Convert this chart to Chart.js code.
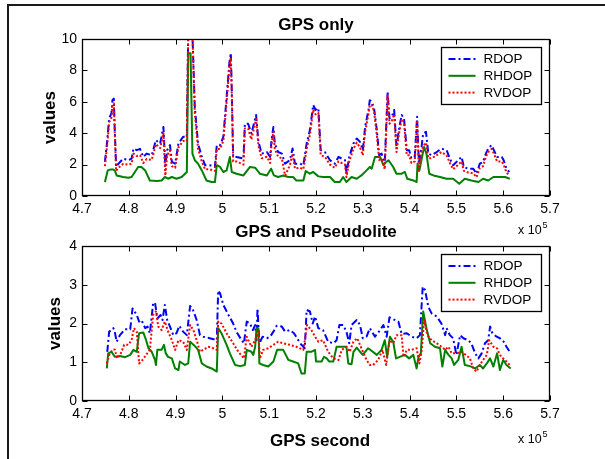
<!DOCTYPE html>
<html>
<head>
<meta charset="utf-8">
<title>GPS only / GPS and Pseudolite</title>
<script src="https://cdn.jsdelivr.net/npm/chart.js@4.4.1/dist/chart.umd.min.js"></script>
<style>
  html, body { margin: 0; background: #fff; }
  #page { position: relative; width: 605px; height: 459px; overflow: hidden; background: #fff; }
  #frame {
    position: absolute; left: 7px; top: 4px; width: 640px; height: 500px;
    border-left: 2px solid #1a1a1a; border-top: 2px solid #1a1a1a;
  }
  canvas { position: absolute; left: 0; top: 0; }
</style>
</head>
<body>
<div id="page">
  <div id="frame"></div>
  <canvas id="topChart" width="605" height="459"></canvas>
  <canvas id="bottomChart" width="605" height="459"></canvas>
</div>
<script>
"use strict";

const $ = (id) => document.getElementById(id);

// GPS second, in units of 10^5 (the axis shows "x 10^5")
const xTicks = [4.7, 4.8, 4.9, 5, 5.1, 5.2, 5.3, 5.4, 5.5, 5.6, 5.7];
const topYTicks = [0, 2, 4, 6, 8, 10];
const bottomYTicks = [0, 1, 2, 3, 4];
const seriesNames = ["RDOP", "RHDOP", "RVDOP"];

// --- GPS only ---
const gpsTime = [
  4.749, 4.754, 4.758, 4.763, 4.765, 4.768, 4.770, 4.773, 4.778, 4.788,
  4.799, 4.806, 4.810, 4.817, 4.824, 4.831, 4.838, 4.849, 4.858, 4.867,
  4.874, 4.878, 4.882, 4.888, 4.892, 4.899, 4.906, 4.916, 4.924, 4.927,
  4.932, 4.936, 4.941, 4.948, 4.956, 4.963, 4.973, 4.984, 4.988, 4.995,
  5.002, 5.009, 5.015, 5.018, 5.020, 5.023, 5.030, 5.045, 5.048, 5.055,
  5.062, 5.072, 5.077, 5.084, 5.095, 5.102, 5.105, 5.109, 5.112, 5.119,
  5.127, 5.134, 5.144, 5.150, 5.155, 5.166, 5.173, 5.180, 5.187, 5.194,
  5.199, 5.205, 5.210, 5.219, 5.230, 5.240, 5.248, 5.255, 5.262, 5.265,
  5.271, 5.280, 5.287, 5.294, 5.300, 5.305, 5.312, 5.315, 5.319, 5.324,
  5.330, 5.335, 5.340, 5.347, 5.353, 5.357, 5.362, 5.367, 5.372, 5.377,
  5.383, 5.388, 5.394, 5.399, 5.404, 5.411, 5.416, 5.420, 5.426, 5.429,
  5.435, 5.440, 5.447, 5.458, 5.468, 5.479, 5.486, 5.493, 5.504, 5.511,
  5.516, 5.525, 5.536, 5.543, 5.550, 5.557, 5.563, 5.568, 5.575, 5.580,
  5.587, 5.597, 5.601, 5.607, 5.613,
];
const gpsRdop = [
  2.17, 3.56, 4.95, 5.27, 6.1, 6.2, 4.2, 1.85, 2.06, 2.38,
  2.28, 2.38, 3.02, 2.92, 3.0, 2.49, 2.7, 2.6, 3.56, 3.34,
  4.4, 1.96, 2.92, 3.24, 2.17, 2.06, 3.34, 3.77, 3.77, 10.6,
  10.8, 10.3, 5.7, 3.34, 2.49, 1.96, 1.96, 1.85, 3.24, 3.24,
  3.77, 6.3, 8.5, 9.1, 6.8, 2.49, 2.49, 2.38, 4.6, 4.6,
  3.98, 5.16, 3.45, 2.7, 2.8, 2.49, 3.56, 4.4, 3.34, 2.8,
  2.7, 2.06, 2.28, 3.02, 2.06, 2.06, 1.96, 3.34, 4.2, 5.8,
  5.48, 5.6, 2.92, 2.8, 2.28, 2.06, 2.49, 2.38, 2.28, 1.42,
  2.49, 3.34, 3.66, 3.45, 2.92, 4.4, 5.48, 6.1, 6.0, 5.6,
  4.2, 2.6, 2.7, 2.17, 6.65, 4.95, 5.05, 5.48, 3.13, 4.2,
  5.16, 4.95, 2.92, 2.92, 2.38, 2.49, 5.05, 2.06, 3.24, 3.98,
  4.09, 2.7, 2.6, 2.8, 3.02, 2.92, 2.38, 1.96, 2.28, 2.49,
  1.85, 1.74, 1.74, 1.42, 2.06, 2.17, 2.7, 3.02, 3.24, 2.92,
  2.49, 2.49, 2.28, 1.74, 1.53,
];
const gpsRvdop = [
  1.9, 3.3, 4.7, 5.0, 5.8, 5.9, 4.0, 1.6, 1.8, 2.05,
  2.0, 2.05, 2.7, 2.55, 2.6, 2.1, 2.35, 2.3, 3.3, 3.05,
  4.0, 1.3, 2.6, 2.9, 1.9, 1.8, 3.1, 3.5, 3.5, 10.5,
  10.9, 10.2, 5.3, 3.0, 2.2, 1.7, 1.7, 1.6, 3.0, 3.0,
  3.5, 6.0, 8.2, 8.8, 6.5, 2.2, 2.2, 2.0, 4.3, 4.3,
  3.6, 4.9, 3.2, 2.4, 2.5, 2.1, 3.3, 4.1, 3.0, 2.5,
  2.4, 1.3, 1.95, 2.7, 1.75, 1.8, 1.7, 3.0, 3.9, 5.5,
  5.2, 5.3, 2.6, 2.5, 2.0, 1.8, 2.2, 2.1, 2.0, 1.2,
  2.2, 3.0, 3.4, 3.1, 2.6, 4.1, 5.2, 5.8, 5.8, 5.4,
  3.9, 2.3, 2.4, 1.7, 6.4, 4.6, 4.8, 5.2, 2.8, 3.9,
  4.9, 4.7, 2.6, 2.6, 2.1, 2.2, 4.7, 1.6, 2.9, 3.2,
  3.4, 2.4, 2.4, 2.6, 2.8, 2.6, 2.1, 1.7, 2.0, 2.2,
  1.6, 1.5, 1.45, 1.2, 1.8, 1.9, 2.5, 2.8, 3.0, 2.7,
  2.2, 2.2, 2.0, 1.5, 1.3,
];
const gpsHTime = [
  4.749, 4.755, 4.760, 4.767, 4.770, 4.774, 4.788, 4.799, 4.806, 4.813,
  4.820, 4.827, 4.835, 4.845, 4.860, 4.870, 4.877, 4.884, 4.892, 4.902,
  4.913, 4.924, 4.927, 4.932, 4.936, 4.941, 4.948, 4.956, 4.966, 4.977,
  4.984, 4.988, 4.995, 5.002, 5.009, 5.016, 5.020, 5.030, 5.045, 5.059,
  5.070, 5.080, 5.095, 5.104, 5.110, 5.119, 5.130, 5.141, 5.151, 5.158,
  5.173, 5.178, 5.187, 5.194, 5.205, 5.215, 5.230, 5.240, 5.251, 5.258,
  5.265, 5.276, 5.287, 5.297, 5.308, 5.315, 5.319, 5.326, 5.337, 5.344,
  5.350, 5.355, 5.365, 5.372, 5.383, 5.390, 5.395, 5.408, 5.415, 5.417,
  5.421, 5.426, 5.431, 5.436, 5.442, 5.451, 5.465, 5.479, 5.493, 5.506,
  5.518, 5.532, 5.547, 5.557, 5.568, 5.579, 5.593, 5.604, 5.614,
];
const gpsRhdop = [
  0.89, 1.63, 1.68, 1.68, 1.63, 1.31, 1.21, 1.16, 1.21, 1.53,
  1.85, 1.85, 1.63, 0.99, 0.95, 0.99, 1.21, 1.1, 1.21, 1.1,
  1.21, 1.53, 9.1, 9.1, 2.7, 2.28, 2.06, 1.63, 0.99, 0.89,
  0.89, 1.96, 1.85, 1.53, 1.63, 2.49, 1.53, 1.42, 1.31, 1.85,
  1.8, 1.42, 1.31, 1.74, 1.31, 1.21, 1.31, 1.21, 1.21, 0.99,
  0.99, 1.59, 1.42, 1.53, 1.25, 1.21, 1.21, 0.89, 0.89, 1.21,
  0.89, 1.21, 1.1, 1.31, 1.63, 1.85, 1.74, 2.49, 2.49, 1.96,
  2.17, 2.28, 1.85, 1.42, 1.42, 1.53, 1.1, 0.99, 0.89, 2.06,
  1.63, 2.38, 3.13, 2.7, 1.42, 1.31, 1.21, 1.1, 1.1, 0.78,
  1.1, 0.99, 0.89, 1.1, 0.99, 1.21, 1.21, 1.21, 1.1,
];

// --- GPS and Pseudolite ---
const plRdopTime = [
  4.754, 4.758, 4.763, 4.767, 4.770, 4.774, 4.781, 4.792, 4.803, 4.808,
  4.817, 4.822, 4.827, 4.835, 4.840, 4.845, 4.852, 4.856, 4.861, 4.868,
  4.872, 4.877, 4.882, 4.888, 4.895, 4.902, 4.908, 4.916, 4.924, 4.931,
  4.936, 4.945, 4.952, 4.959, 4.973, 4.988, 4.991, 4.995, 5.002, 5.013,
  5.023, 5.030, 5.041, 5.046, 5.052, 5.059, 5.065, 5.070, 5.073, 5.075,
  5.079, 5.086, 5.095, 5.102, 5.109, 5.116, 5.127, 5.134, 5.144, 5.153,
  5.166, 5.176, 5.180, 5.187, 5.193, 5.198, 5.205, 5.215, 5.226, 5.237,
  5.244, 5.250, 5.258, 5.265, 5.271, 5.276, 5.287, 5.294, 5.300, 5.308,
  5.315, 5.326, 5.337, 5.344, 5.351, 5.357, 5.365, 5.376, 5.383, 5.394,
  5.404, 5.415, 5.422, 5.428, 5.433, 5.440, 5.447, 5.458, 5.468, 5.476,
  5.479, 5.486, 5.493, 5.500, 5.508, 5.515, 5.525, 5.532, 5.540, 5.547,
  5.554, 5.561, 5.568, 5.572, 5.577, 5.586, 5.593, 5.601, 5.607, 5.614,
];
const plRdop = [
  1.27, 1.79, 1.83, 1.88, 1.79, 1.53, 1.70, 1.85, 1.85, 2.39,
  2.22, 2.05, 2.09, 1.88, 1.92, 1.75, 2.52, 2.54, 2.13, 2.22,
  2.09, 2.48, 2.09, 1.92, 1.70, 1.75, 1.94, 1.79, 1.70, 2.45,
  2.39, 2.09, 1.70, 1.66, 1.62, 1.57, 2.85, 2.78, 2.48, 2.22,
  2.00, 1.79, 1.57, 1.49, 2.05, 2.00, 1.83, 1.96, 1.57, 2.39,
  1.49, 1.66, 1.62, 1.66, 1.79, 1.94, 1.92, 1.79, 1.83, 1.75,
  1.49, 1.36, 2.35, 2.31, 2.00, 2.18, 1.88, 1.83, 1.53, 1.49,
  1.57, 1.96, 1.96, 1.79, 1.49, 1.96, 2.09, 1.96, 1.62, 1.66,
  1.88, 1.66, 1.83, 1.96, 1.66, 2.16, 2.11, 2.05, 1.73, 1.75,
  1.66, 1.62, 1.70, 2.95, 2.86, 2.43, 2.26, 2.18, 2.00, 1.70,
  1.88, 1.70, 1.62, 1.19, 1.70, 1.62, 1.57, 1.49, 1.23, 1.10,
  1.23, 1.49, 1.57, 1.92, 1.75, 1.66, 1.62, 1.53, 1.40, 1.27,
];
const plRhdopTime = [
  4.753, 4.756, 4.763, 4.770, 4.781, 4.792, 4.803, 4.810, 4.817, 4.822,
  4.831, 4.837, 4.842, 4.849, 4.856, 4.858, 4.861, 4.870, 4.875, 4.879,
  4.884, 4.892, 4.899, 4.906, 4.909, 4.920, 4.927, 4.931, 4.941, 4.948,
  4.956, 4.966, 4.977, 4.988, 4.991, 4.998, 5.009, 5.016, 5.027, 5.038,
  5.048, 5.052, 5.062, 5.066, 5.070, 5.073, 5.077, 5.079, 5.087, 5.098,
  5.109, 5.117, 5.130, 5.141, 5.151, 5.162, 5.169, 5.176, 5.180, 5.190,
  5.198, 5.200, 5.212, 5.217, 5.223, 5.228, 5.237, 5.244, 5.258, 5.265,
  5.269, 5.276, 5.280, 5.287, 5.297, 5.300, 5.311, 5.315, 5.330, 5.340,
  5.347, 5.352, 5.358, 5.365, 5.371, 5.379, 5.390, 5.399, 5.408, 5.415,
  5.419, 5.424, 5.429, 5.436, 5.444, 5.454, 5.465, 5.470, 5.476, 5.483,
  5.490, 5.495, 5.504, 5.511, 5.518, 5.529, 5.540, 5.550, 5.557, 5.565,
  5.572, 5.579, 5.587, 5.593, 5.600, 5.607, 5.616,
];
const plRhdop = [
  0.84, 1.23, 1.27, 1.14, 1.16, 1.13, 1.19, 1.32, 1.27, 1.75,
  1.77, 1.57, 1.36, 1.27, 1.06, 0.93, 1.32, 1.32, 1.45, 1.23,
  1.14, 1.10, 0.84, 0.80, 1.02, 0.93, 0.97, 1.53, 1.42, 1.32,
  0.97, 0.89, 0.84, 0.76, 1.88, 1.75, 1.45, 1.23, 0.93, 0.90,
  0.93, 1.32, 1.27, 1.19, 1.40, 1.88, 1.88, 0.97, 0.93, 0.89,
  1.02, 1.32, 1.32, 1.06, 1.02, 0.97, 0.71, 0.71, 1.27, 1.27,
  1.32, 1.02, 1.02, 1.14, 1.10, 1.02, 1.02, 1.40, 1.40, 1.40,
  0.97, 0.95, 1.27, 1.38, 1.23, 1.19, 1.36, 1.33, 1.19, 1.32,
  1.57, 1.14, 1.66, 1.53, 1.10, 1.14, 1.19, 1.10, 1.19, 0.84,
  1.14, 1.23, 2.31, 1.88, 1.49, 1.40, 1.36, 0.89, 1.32, 1.19,
  1.10, 0.93, 1.06, 1.40, 0.93, 0.90, 0.84, 0.93, 0.84, 0.97,
  1.10, 0.89, 1.23, 0.80, 1.06, 0.93, 0.84,
];
const plRvdopTime = [
  4.753, 4.758, 4.765, 4.770, 4.775, 4.783, 4.790, 4.799, 4.806, 4.811,
  4.817, 4.822, 4.827, 4.837, 4.845, 4.852, 4.858, 4.863, 4.870, 4.877,
  4.884, 4.892, 4.899, 4.906, 4.916, 4.924, 4.931, 4.938, 4.945, 4.952,
  4.959, 4.970, 4.981, 4.988, 4.991, 4.998, 5.009, 5.023, 5.034, 5.046,
  5.052, 5.062, 5.070, 5.077, 5.080, 5.087, 5.098, 5.109, 5.119, 5.130,
  5.144, 5.158, 5.173, 5.181, 5.190, 5.198, 5.205, 5.215, 5.226, 5.237,
  5.248, 5.255, 5.265, 5.272, 5.280, 5.288, 5.297, 5.308, 5.315, 5.322,
  5.333, 5.342, 5.350, 5.357, 5.365, 5.372, 5.383, 5.387, 5.394, 5.404,
  5.415, 5.421, 5.426, 5.431, 5.438, 5.447, 5.458, 5.468, 5.476, 5.483,
  5.490, 5.500, 5.511, 5.520, 5.529, 5.536, 5.543, 5.550, 5.557, 5.565,
  5.570, 5.579, 5.587, 5.593, 5.600, 5.607, 5.614,
];
const plRvdop = [
  0.97, 1.19, 1.32, 1.33, 1.10, 1.23, 1.45, 1.45, 1.57, 1.88,
  1.79, 0.97, 1.02, 1.19, 1.32, 2.22, 2.31, 1.92, 1.83, 2.05,
  1.79, 1.57, 1.32, 1.57, 1.53, 1.32, 1.96, 1.83, 1.57, 1.27,
  1.32, 1.40, 1.36, 1.32, 2.05, 2.00, 1.75, 1.49, 1.27, 1.10,
  1.66, 1.40, 1.57, 1.79, 1.10, 1.32, 1.36, 1.45, 1.53, 1.49,
  1.45, 1.40, 1.32, 1.96, 1.83, 1.66, 1.53, 1.57, 1.27, 1.10,
  1.06, 1.32, 1.40, 1.27, 1.53, 1.62, 1.36, 1.06, 0.93, 0.93,
  1.06, 1.32, 0.93, 1.57, 1.49, 1.70, 1.70, 1.14, 1.32, 1.32,
  1.36, 0.97, 1.32, 2.09, 1.70, 1.57, 1.49, 1.40, 1.32, 1.40,
  1.23, 1.23, 1.27, 1.19, 1.10, 0.84, 0.76, 0.93, 1.06, 1.19,
  1.57, 1.40, 1.36, 1.19, 1.10, 1.02, 0.93,
];

const FONT = "Arial, 'Liberation Sans', Helvetica, sans-serif";
const lineStyles = [
  { color: "#0000ff", dash: [7, 3, 2, 3] },
  { color: "#008000", dash: [] },
  { color: "#ff0000", dash: [2, 2] },
];

Chart.defaults.font.family = FONT;
Chart.defaults.font.size = 14;
Chart.defaults.color = "#000";

function points(xs, ys) {
  return xs.map((x, i) => ({ x, y: ys[i] }));
}

// MATLAB style box, inward ticks, legend and labels
const matlabAxes = {
  id: "matlabAxes",
  afterDatasetsDraw(chart, args, opts) {
    const { ctx, chartArea: a, scales } = chart;
    const L = Math.round(a.left) + 0.5;
    const R = Math.round(a.right) - 0.5;
    const T = Math.round(a.top) + 0.5;
    const B = Math.round(a.bottom) - 0.5;
    ctx.save();
    ctx.strokeStyle = "#000";
    ctx.lineWidth = 1;
    ctx.setLineDash([]);
    ctx.beginPath();
    scales.x.ticks.forEach((t) => {
      const px = Math.round(scales.x.getPixelForValue(t.value)) + 0.5;
      ctx.moveTo(px, B);
      ctx.lineTo(px, B - 5);
      ctx.moveTo(px, T);
      ctx.lineTo(px, T + 5);
    });
    scales.y.ticks.forEach((t) => {
      const py = Math.round(scales.y.getPixelForValue(t.value)) + 0.5;
      ctx.moveTo(L, py);
      ctx.lineTo(L + 5, py);
      ctx.moveTo(R, py);
      ctx.lineTo(R - 5, py);
    });
    ctx.stroke();
    ctx.lineWidth = 1.3;
    ctx.strokeRect(L, T, R - L, B - T);

    // legend
    const lw = 100, lh = 57;
    const lx = Math.round(a.right) - 9 - lw + 0.5;
    const ly = Math.round(a.top) + 8 + 0.5;
    ctx.fillStyle = "#fff";
    ctx.fillRect(lx, ly, lw, lh);
    ctx.lineWidth = 1.3;
    ctx.strokeRect(lx, ly, lw, lh);
    ctx.font = `13.5px ${FONT}`;
    ctx.textBaseline = "middle";
    ctx.textAlign = "left";
    chart.data.datasets.forEach((ds, i) => {
      const y = ly + 11.5 + i * 16.8;
      ctx.strokeStyle = ds.borderColor;
      ctx.lineWidth = 2;
      ctx.setLineDash(ds.borderDash);
      ctx.beginPath();
      ctx.moveTo(lx + 7, y);
      ctx.lineTo(lx + 34, y);
      ctx.stroke();
      ctx.fillStyle = "#000";
      ctx.fillText(ds.label, lx + 42, y + 0.5);
    });
    ctx.setLineDash([]);

    // title, axis labels and exponent
    const cx = (a.left + a.right) / 2;
    ctx.fillStyle = "#000";
    ctx.textBaseline = "alphabetic";
    ctx.textAlign = "center";
    ctx.font = `bold 17px ${FONT}`;
    ctx.fillText(opts.title, cx, a.top - 9);
    if (opts.xlabel) ctx.fillText(opts.xlabel, cx + 4, a.bottom + 45);

    ctx.save();
    ctx.translate(opts.ylabelX, (a.top + a.bottom) / 2);
    ctx.rotate(-Math.PI / 2);
    ctx.textBaseline = "middle";
    ctx.fillText(opts.ylabel, 0, 0);
    ctx.restore();

    ctx.textAlign = "left";
    ctx.font = `12.5px ${FONT}`;
    ctx.fillText("x 10", 518, a.bottom + opts.expOffset);
    ctx.font = `9px ${FONT}`;
    ctx.fillText("5", 542.5, a.bottom + opts.expOffset - 6);
    ctx.restore();
  },
};

function makePlot(id, cfg) {
  return new Chart($(id), {
    type: "line",
    data: {
      datasets: cfg.series.map((s, i) => ({
        label: seriesNames[i],
        data: points(s.x, s.y),
        borderColor: lineStyles[i].color,
        borderDash: lineStyles[i].dash,
        borderWidth: 2,
        borderJoinStyle: "round",
        pointRadius: 0,
        tension: 0,
        fill: false,
        order: 2 - i,
        clip: 0,
      })),
    },
    options: {
      responsive: false,
      animation: false,
      events: [],
      layout: { padding: cfg.padding },
      scales: {
        x: {
          type: "linear",
          min: 4.7,
          max: 5.7,
          afterBuildTicks: (s) => {
            s.ticks = xTicks.map((value) => ({ value }));
          },
          afterFit: (s) => {
            s.height = 30;
          },
          grid: { display: false, drawTicks: false },
          border: { display: false },
          ticks: {
            padding: 5,
            maxRotation: 0,
            autoSkip: false,
            callback: (v) => String(v),
          },
        },
        y: {
          type: "linear",
          min: 0,
          max: cfg.yTicks[cfg.yTicks.length - 1],
          afterBuildTicks: (s) => {
            s.ticks = cfg.yTicks.map((value) => ({ value }));
          },
          afterFit: (s) => {
            s.width = 82;
          },
          grid: { display: false, drawTicks: false },
          border: { display: false },
          ticks: { padding: 5, callback: (v) => String(v) },
        },
      },
      plugins: {
        legend: { display: false },
        tooltip: { enabled: false },
        matlabAxes: cfg.labels,
      },
    },
    plugins: [matlabAxes],
  });
}

makePlot("topChart", {
  series: [
    { x: gpsTime, y: gpsRdop },
    { x: gpsHTime, y: gpsRhdop },
    { x: gpsTime, y: gpsRvdop },
  ],
  yTicks: topYTicks,
  padding: { left: 0, right: 55, top: 39, bottom: 233 },
  labels: { title: "GPS only", ylabel: "values", ylabelX: 50, expOffset: 38 },
});

makePlot("bottomChart", {
  series: [
    { x: plRdopTime, y: plRdop },
    { x: plRhdopTime, y: plRhdop },
    { x: plRvdopTime, y: plRvdop },
  ],
  yTicks: bottomYTicks,
  padding: { left: 0, right: 55, top: 246, bottom: 28 },
  labels: {
    title: "GPS and Pseudolite",
    xlabel: "GPS second",
    ylabel: "values",
    ylabelX: 55,
    expOffset: 42,
  },
});
</script>
</body>
</html>
